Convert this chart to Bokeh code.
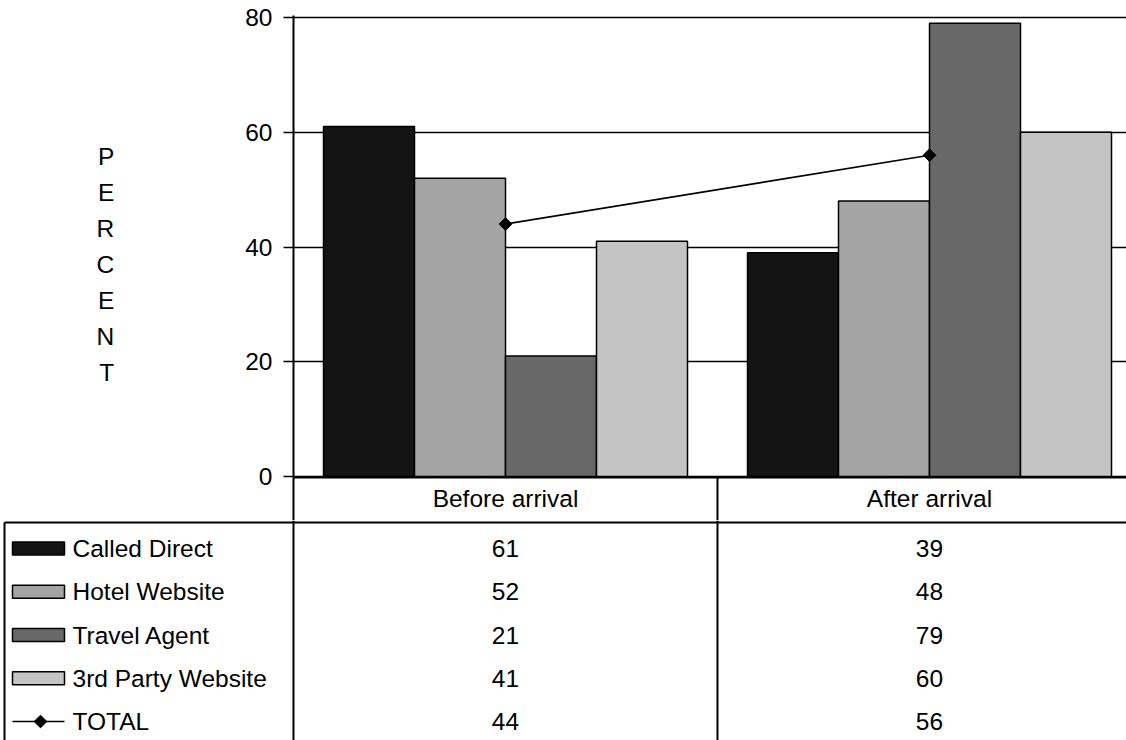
import math
from bokeh.plotting import figure
from bokeh.models import Range1d, FixedTicker, ColumnDataSource
from bokeh.layouts import column
from bokeh.transform import dodge
from bokeh.core.properties import value
from bokeh.embed import file_html
from bokeh.resources import INLINE

# ---------------- data ----------------
categories = ["Before arrival", "After arrival"]
series_names = ["Called Direct", "Hotel Website", "Travel Agent", "3rd Party Website"]
called_direct = [61, 39]
hotel_website = [52, 48]
travel_agent = [21, 79]
third_party_website = [41, 60]
total = [44, 56]
y_ticks = [0, 20, 40, 60, 80]

series_values = [called_direct, hotel_website, travel_agent, third_party_website]
series_colors = ["#141414", "#a4a4a4", "#686868", "#c4c4c4"]

FONT = "Liberation Sans"
FS = "24.5px"
CAT_PX = 424.0            # pixels per category
PX_PER_UNIT = 459.0 / 80  # pixels per percent
BAR_W = 91.0 / CAT_PX
W = 1126

cat_x = [i + 0.5 for i in range(len(categories))]

# ---------------- chart ----------------
top = figure(width=W, height=520,
             x_range=Range1d(0, (W - 293) / CAT_PX),
             y_range=Range1d(-1 / PX_PER_UNIT, 80 + 2 / PX_PER_UNIT),
             output_backend="svg", toolbar_location=None,
             min_border_left=293, min_border_right=0,
             min_border_top=15, min_border_bottom=43,
             frame_align=False)
top.outline_line_color = None
top.background_fill_color = "white"
top.border_fill_color = "white"
top.xgrid.visible = False

yticker = FixedTicker(ticks=y_ticks)
top.yaxis.ticker = yticker
top.ygrid.ticker = yticker
top.ygrid.grid_line_color = "black"
top.ygrid.grid_line_width = 1.6
top.yaxis.axis_line_width = 2
top.yaxis.axis_line_color = "black"
top.yaxis.major_tick_out = 10
top.yaxis.major_tick_in = 0
top.yaxis.major_tick_line_width = 1.6
top.yaxis.major_tick_line_color = "black"
top.yaxis.minor_tick_line_color = None
top.yaxis.major_label_text_font = FONT
top.yaxis.major_label_text_font_size = FS
top.yaxis.major_label_text_color = "black"
top.yaxis.major_label_standoff = 11
top.yaxis.axis_label = "\n" + "\n".join("PERCENT")
top.yaxis.axis_label_orientation = "horizontal"
top.yaxis.axis_label_text_font = FONT
top.yaxis.axis_label_text_font_size = FS
top.yaxis.axis_label_text_font_style = "normal"
top.yaxis.axis_label_text_color = "black"
top.yaxis.axis_label_text_line_height = 1.33
top.yaxis.axis_label_standoff = 128

# category header of the data table = x axis
xticker = FixedTicker(ticks=cat_x, minor_ticks=[0, 1, 2])
top.xaxis.ticker = xticker
top.xaxis.major_label_overrides = {x: c for x, c in zip(cat_x, categories)}
top.xaxis.axis_line_width = 2
top.xaxis.axis_line_color = "black"
top.xaxis.major_tick_out = 0
top.xaxis.major_tick_in = 0
top.xaxis.major_tick_line_color = None
top.xaxis.minor_tick_out = 46
top.xaxis.minor_tick_in = 0
top.xaxis.minor_tick_line_width = 2
top.xaxis.minor_tick_line_color = "black"
top.xaxis.major_label_text_font = FONT
top.xaxis.major_label_text_font_size = FS
top.xaxis.major_label_text_color = "black"
top.xaxis.major_label_standoff = -39

src = ColumnDataSource(dict(x=cat_x, cd=called_direct, hw=hotel_website,
                            ta=travel_agent, tp=third_party_website, tot=total))
for k, (col, color) in enumerate(zip(["cd", "hw", "ta", "tp"], series_colors)):
    top.vbar(x=dodge("x", (k - 1.5) * BAR_W, range=top.x_range), top=col,
             width=BAR_W, bottom=0, source=src, fill_color=color,
             line_color="black", line_width=1.5)

top.line(x="x", y="tot", source=src, line_color="black", line_width=1.6)
top.scatter(x="x", y="tot", source=src, marker="square", angle=math.pi / 4, size=9,
            fill_color="black", line_color="black")

# ---------------- data table ----------------
TH = 220
tbl = figure(width=W, height=TH,
             x_range=Range1d(-293 / CAT_PX, (W - 293) / CAT_PX),
             y_range=Range1d(TH, 0),
             output_backend="svg", toolbar_location=None,
             min_border_left=0, min_border_right=0, min_border_top=0, min_border_bottom=0,
             x_axis_location=None, y_axis_location=None, frame_align=False)
tbl.outline_line_color = None
tbl.background_fill_color = "white"
tbl.border_fill_color = "white"
tbl.xgrid.visible = False
tbl.ygrid.visible = False
tbl.extra_x_ranges = {"px": Range1d(0, W)}

row_y = [28 + k * 43.25 for k in range(5)]

# table lines
tbl.segment(x0=[0, 1, 2], y0=[0, 0, 0], x1=[0, 1, 2], y1=[TH, TH, TH],
            line_color="black", line_width=2)
tbl.segment(x0=[4, 4], y0=[2, 2], x1=[W, 4], y1=[2, TH],
            line_color="black", line_width=2, x_range_name="px")

# values
all_rows = series_values + [total]
vx, vy, vt = [], [], []
for k, vals in enumerate(all_rows):
    for i, v in enumerate(vals):
        vx.append(cat_x[i])
        vy.append(row_y[k])
        vt.append(str(v))
tbl.text(x=vx, y=vy, text=vt, text_align="center", text_baseline="middle",
         text_font=value(FONT), text_font_size=FS, text_color="black")

# legend keys
tbl.quad(left=[12] * 4, right=[64] * 4,
         top=[row_y[k] - 6.5 for k in range(4)],
         bottom=[row_y[k] + 6.5 for k in range(4)],
         fill_color=series_colors, line_color="black", line_width=1.5,
         x_range_name="px")
tbl.segment(x0=[12], y0=[row_y[4]], x1=[64], y1=[row_y[4]],
            line_color="black", line_width=1.6, x_range_name="px")
tbl.scatter(x=[40], y=[row_y[4]], marker="square", angle=math.pi / 4, size=9,
            fill_color="black", line_color="black", x_range_name="px")
tbl.text(x=[72] * 5, y=row_y, text=series_names + ["TOTAL"],
         text_align="left", text_baseline="middle",
         text_font=value(FONT), text_font_size=FS, text_color="black",
         x_range_name="px")

layout = column(top, tbl, spacing=0)
open("out.html", "w").write(file_html(layout, INLINE))
